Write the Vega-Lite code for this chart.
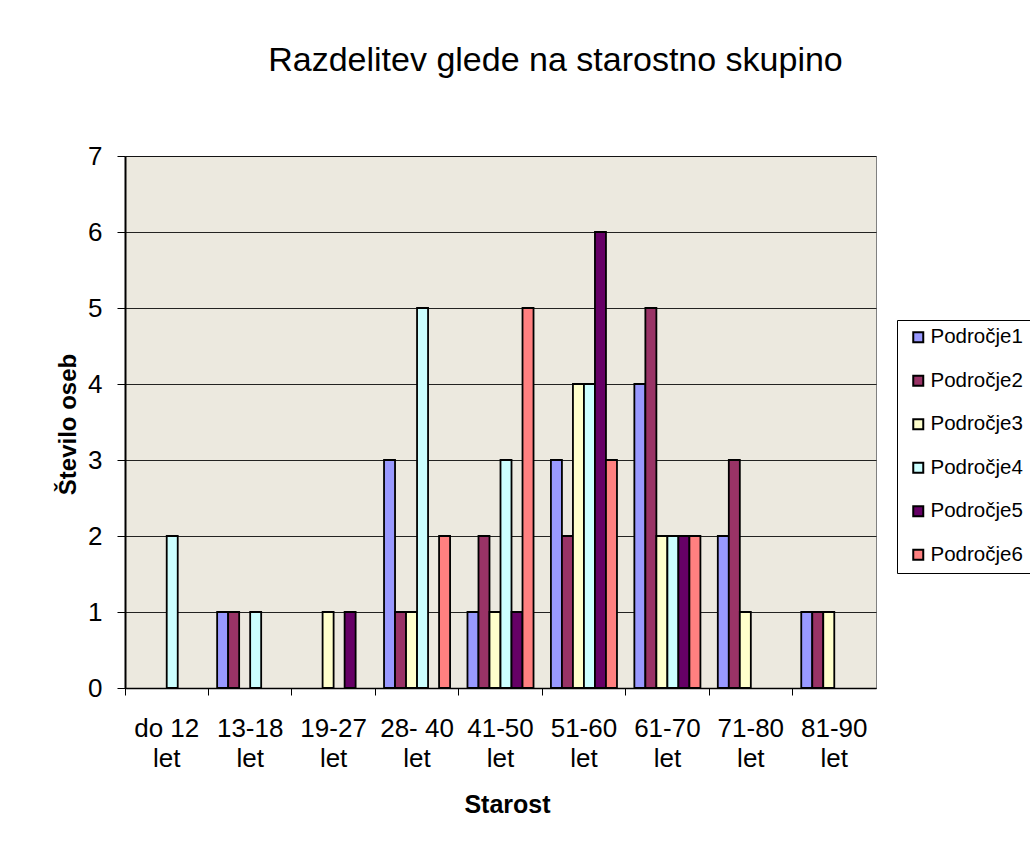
{
  "$schema": "https://vega.github.io/schema/vega-lite/v6.json",
  "width": 751,
  "height": 532,
  "autosize": {"type": "none"},
  "padding": {"left": 125, "top": 156, "right": 154, "bottom": 165},
  "background": "white",
  "config": {
    "font": "Liberation Sans",
    "view": {"fill": "#ECE9DF", "stroke": "#808080", "strokeWidth": 1}
  },
  "title": {
    "text": "Razdelitev glede na starostno skupino",
    "font": "Liberation Sans",
    "fontSize": 34,
    "fontWeight": "normal",
    "color": "#000000",
    "anchor": "middle",
    "frame": "group",
    "dx": 55,
    "baseline": "alphabetic",
    "offset": 38
  },
  "data": {
    "values": [
      {"starost": "do 12 let", "podrocje": "Področje4", "st": 2},
      {"starost": "13-18 let", "podrocje": "Področje1", "st": 1},
      {"starost": "13-18 let", "podrocje": "Področje2", "st": 1},
      {"starost": "13-18 let", "podrocje": "Področje4", "st": 1},
      {"starost": "19-27 let", "podrocje": "Področje3", "st": 1},
      {"starost": "19-27 let", "podrocje": "Področje5", "st": 1},
      {"starost": "28- 40 let", "podrocje": "Področje1", "st": 3},
      {"starost": "28- 40 let", "podrocje": "Področje2", "st": 1},
      {"starost": "28- 40 let", "podrocje": "Področje3", "st": 1},
      {"starost": "28- 40 let", "podrocje": "Področje4", "st": 5},
      {"starost": "28- 40 let", "podrocje": "Področje6", "st": 2},
      {"starost": "41-50 let", "podrocje": "Področje1", "st": 1},
      {"starost": "41-50 let", "podrocje": "Področje2", "st": 2},
      {"starost": "41-50 let", "podrocje": "Področje3", "st": 1},
      {"starost": "41-50 let", "podrocje": "Področje4", "st": 3},
      {"starost": "41-50 let", "podrocje": "Področje5", "st": 1},
      {"starost": "41-50 let", "podrocje": "Področje6", "st": 5},
      {"starost": "51-60 let", "podrocje": "Področje1", "st": 3},
      {"starost": "51-60 let", "podrocje": "Področje2", "st": 2},
      {"starost": "51-60 let", "podrocje": "Področje3", "st": 4},
      {"starost": "51-60 let", "podrocje": "Področje4", "st": 4},
      {"starost": "51-60 let", "podrocje": "Področje5", "st": 6},
      {"starost": "51-60 let", "podrocje": "Področje6", "st": 3},
      {"starost": "61-70 let", "podrocje": "Področje1", "st": 4},
      {"starost": "61-70 let", "podrocje": "Področje2", "st": 5},
      {"starost": "61-70 let", "podrocje": "Področje3", "st": 2},
      {"starost": "61-70 let", "podrocje": "Področje4", "st": 2},
      {"starost": "61-70 let", "podrocje": "Področje5", "st": 2},
      {"starost": "61-70 let", "podrocje": "Področje6", "st": 2},
      {"starost": "71-80 let", "podrocje": "Področje1", "st": 2},
      {"starost": "71-80 let", "podrocje": "Področje2", "st": 3},
      {"starost": "71-80 let", "podrocje": "Področje3", "st": 1},
      {"starost": "81-90 let", "podrocje": "Področje1", "st": 1},
      {"starost": "81-90 let", "podrocje": "Področje2", "st": 1},
      {"starost": "81-90 let", "podrocje": "Področje3", "st": 1}
    ]
  },
  "mark": {"type": "bar", "stroke": "#000000", "strokeWidth": 1.8},
  "encoding": {
    "x": {
      "field": "starost",
      "type": "nominal",
      "scale": {
        "domain": ["do 12 let", "13-18 let", "19-27 let", "28- 40 let", "41-50 let", "51-60 let", "61-70 let", "71-80 let", "81-90 let"],
        "paddingInner": 0,
        "paddingOuter": 0
      },
      "axis": {
        "bandPosition": 0,
        "labelAngle": 0,
        "labelFontSize": 26,
        "labelColor": "#000000",
        "labelLineHeight": 30,
        "labelPadding": 20,
        "labelExpr": "[slice(datum.label, 0, length(datum.label) - 4), 'let']",
        "tickSize": 7,
        "tickColor": "#000000",
        "tickWidth": 1,
        "domainColor": "#000000",
        "domainWidth": 1.5,
        "grid": false,
        "title": "Starost",
        "titleFontSize": 25,
        "titleFontWeight": "bold",
        "titleColor": "#000000",
        "titleX": 382,
        "titleY": 124,
        "titleBaseline": "alphabetic",
        "titleAlign": "center"
      }
    },
    "xOffset": {
      "field": "podrocje",
      "type": "nominal",
      "scale": {
        "domain": ["Področje1", "Področje2", "Področje3", "Področje4", "Področje5", "Področje6"],
        "paddingInner": 0,
        "paddingOuter": 0.79
      }
    },
    "y": {
      "field": "st",
      "type": "quantitative",
      "scale": {"domain": [0, 7], "nice": false, "zero": true},
      "axis": {
        "values": [0, 1, 2, 3, 4, 5, 6, 7],
        "format": "d",
        "grid": true,
        "gridColor": "#000000",
        "gridWidth": 1,
        "gridOpacity": 0.85,
        "labelFontSize": 26,
        "labelColor": "#000000",
        "labelPadding": 15,
        "tickSize": 8,
        "tickColor": "#000000",
        "domainColor": "#000000",
        "domainWidth": 2,
        "title": "Število oseb",
        "titleFontSize": 24,
        "titleFontWeight": "bold",
        "titleColor": "#000000",
        "titleAngle": -90,
        "titleX": -50,
        "titleY": 268,
        "titleBaseline": "alphabetic",
        "titleAlign": "center"
      }
    },
    "color": {
      "field": "podrocje",
      "type": "nominal",
      "scale": {
        "domain": ["Področje1", "Področje2", "Področje3", "Področje4", "Področje5", "Področje6"],
        "range": ["#9999FF", "#993366", "#FFFFCC", "#CCFFFF", "#660066", "#FF8080"]
      },
      "legend": {
        "title": null,
        "orient": "none",
        "legendX": 772,
        "legendY": 164,
        "strokeColor": "#000000",
        "fillColor": "#FFFFFF",
        "padding": 7,
        "symbolType": "square",
        "symbolSize": 100,
        "symbolStrokeColor": "#000000",
        "symbolStrokeWidth": 2,
        "symbolOffset": 4,
        "labelOffset": 2,
        "labelFontSize": 20.5,
        "labelColor": "#000000",
        "rowPadding": 22.5
      }
    }
  }
}
